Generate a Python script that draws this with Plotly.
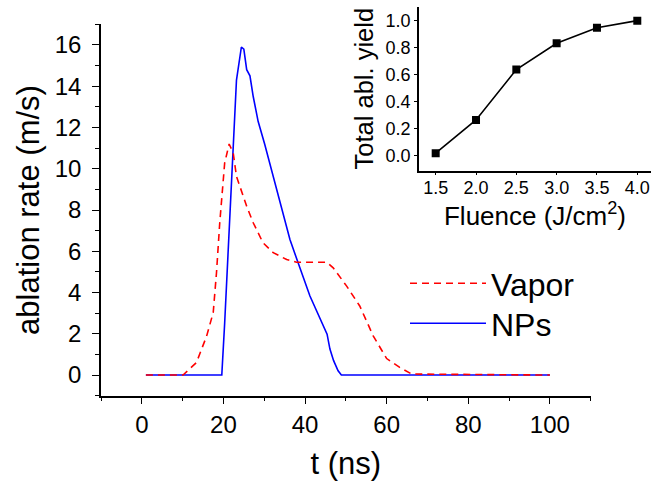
import plotly.graph_objects as go

# ---- main panel data: ablation rate vs time ----
t_np = [1, 19.6, 20.3, 21.2, 22.0, 23.2, 24.4, 25.0, 25.7, 26.5, 27.3, 28.5, 30.1, 31.8,
        33.4, 34.2, 36.3, 38.3, 41.2, 45.4, 46.1, 47.0, 48.1, 48.9, 100]
v_np = [0, 0, 2.5, 6.25, 9.0, 14.3, 15.9, 15.8, 14.8, 14.5, 13.5, 12.3, 11.2, 9.95,
        8.66, 8.18, 6.57, 5.44, 3.83, 1.98, 1.26, 0.7, 0.21, 0, 0]

t_vap = [1, 10.1, 13.4, 15.9, 17.5, 18.3, 19.1, 19.7, 20.3, 21.4, 22.4, 23.2, 25.0,
         25.7, 27.3, 29.7, 32.2, 35.5, 37.9, 45.3, 46.9, 50.2, 53.4, 56.7, 60.0,
         63.2, 66.1, 100]
v_vap = [0, 0, 0.61, 1.9, 3.03, 4.96, 7.38, 8.66, 10.27, 11.2, 10.76, 9.63, 8.58,
         8.18, 7.38, 6.41, 5.93, 5.6, 5.47, 5.47, 5.2, 4.31, 3.35, 1.9, 0.8,
         0.37, 0.05, 0]

# ---- inset data: total ablation yield vs fluence ----
fluence = [1.5, 2.0, 2.5, 3.0, 3.5, 4.0]
yield_total = [0.02, 0.266, 0.638, 0.833, 0.948, 1.0]

x_ticks_main = [0, 20, 40, 60, 80, 100]
y_ticks_main = [0, 2, 4, 6, 8, 10, 12, 14, 16]
x_ticks_inset = [1.5, 2.0, 2.5, 3.0, 3.5, 4.0]
x_ticklabels_inset = ["1.5", "2.0", "2.5", "3.0", "3.5", "4.0"]
y_ticks_inset = [0.0, 0.2, 0.4, 0.6, 0.8, 1.0]
y_ticklabels_inset = ["0.0", "0.2", "0.4", "0.6", "0.8", "1.0"]

FONT = "Liberation Sans, Arial, sans-serif"
W, H = 651, 485

fig = go.Figure()
fig.add_trace(go.Scatter(x=t_np, y=v_np, mode="lines", name="NPs", legend="legend2",
                         line=dict(color="#0000FF", width=1.6)))
fig.add_trace(go.Scatter(x=t_vap, y=v_vap, mode="lines", name="Vapor", legend="legend",
                         line=dict(color="#FF0000", width=1.6, dash="7px,5px")))
fig.add_trace(go.Scatter(x=fluence, y=yield_total, mode="lines+markers",
                         xaxis="x2", yaxis="y2", showlegend=False,
                         line=dict(color="black", width=1.6),
                         marker=dict(symbol="square", size=8, color="black")))

def px_x(p):
    return p / W

def px_y(p):
    return 1 - p / H

axis_common = dict(showgrid=False, zeroline=False, showline=True, linecolor="black",
                   linewidth=1.5, ticks="outside", tickcolor="black", tickwidth=1.3)

legend_common = dict(xanchor="left", yanchor="top", itemwidth=76,
                     font=dict(size=32), bgcolor="rgba(0,0,0,0)")

fig.update_layout(
    width=W, height=H,
    margin=dict(l=0, r=0, t=0, b=0),
    paper_bgcolor="white", plot_bgcolor="rgba(0,0,0,0)",
    font=dict(family=FONT, color="black"),
    xaxis=dict(**axis_common, domain=[px_x(101), px_x(590.7)], range=[-10, 110],
               tickvals=x_ticks_main, ticklen=7,
               minor=dict(dtick=10, tick0=0, ticklen=4, ticks="outside", tickcolor="black", tickwidth=1.3),
               tickfont=dict(size=24),
               title=dict(text="t (ns)", font=dict(size=31), standoff=15),
               anchor="y"),
    yaxis=dict(**axis_common, domain=[px_y(395.7), px_y(24.3)], range=[-1, 17],
               tickvals=y_ticks_main, ticklen=7, ticklabelstandoff=6,
               minor=dict(dtick=1, tick0=0, ticklen=4, ticks="outside", tickcolor="black", tickwidth=1.3),
               tickfont=dict(size=24),
               title=dict(text="ablation rate (m/s)", font=dict(size=31), standoff=6),
               anchor="x"),
    xaxis2=dict(**axis_common, domain=[px_x(419), 1.0], range=[1.293, 4.17],
                tickvals=x_ticks_inset, ticktext=x_ticklabels_inset, ticklen=3,
                ticklabelstandoff=-3,
                tickfont=dict(size=18),
                title=dict(text="Fluence (J/cm<sup>2</sup>)", font=dict(size=26), standoff=10),
                anchor="y2"),
    yaxis2=dict(**axis_common, domain=[px_y(170.7), px_y(6.7)], range=[-0.109, 1.103],
                tickvals=y_ticks_inset, ticktext=y_ticklabels_inset, ticklen=3,
                tickfont=dict(size=18),
                title=dict(text="Total abl. yield", font=dict(size=25.5), standoff=5),
                anchor="x2"),
    legend=dict(**legend_common, x=px_x(405), y=px_y(256)),
    legend2=dict(**legend_common, x=px_x(405), y=px_y(296)),
    showlegend=True,
)

fig.write_html("out.html")
